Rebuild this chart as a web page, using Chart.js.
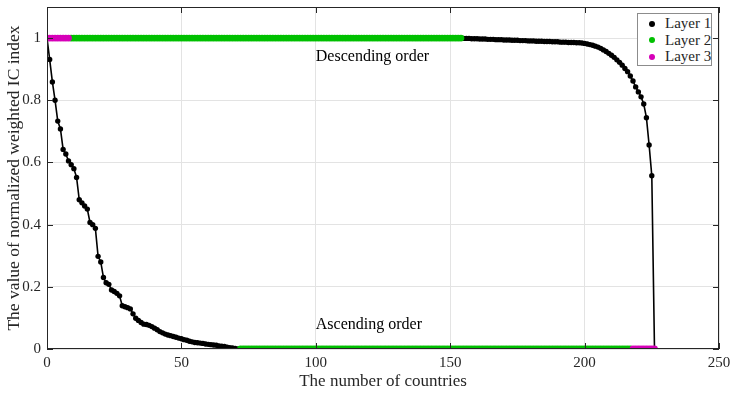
<!DOCTYPE html>
<html>
<head>
<meta charset="utf-8">
<script src="https://cdn.jsdelivr.net/npm/chart.js@4/dist/chart.umd.min.js"></script>
<style>
  html, body { margin: 0; padding: 0; background: #fff; }
  #wrap { position: relative; width: 731px; height: 396px; }
  #legend {
    position: absolute; left: 637px; top: 13px; width: 73px; height: 50px;
    box-sizing: content-box; padding-top: 1px;
    background: #fff; border: 1px solid #8c8c8c;
    font: 15px "Liberation Serif", "Times New Roman", serif; color: #262626;
  }
  #legend div { height: 16.5px; line-height: 17px; white-space: nowrap; }
  #legend span.dot {
    display: inline-block; width: 6px; height: 6px; border-radius: 50%;
    margin: 0 10px 2px 11px; vertical-align: middle;
  }
</style>
</head>
<body>
<div id="wrap">
  <canvas id="chart" width="731" height="396"></canvas>
  <div id="legend"></div>
</div>
<script>
// rank of the country (x) where each run of points starts
const ASC_BLACK_START = 0;
const ASC_GREEN_START = 72;
const ASC_MAGENTA_START = 218;
const DESC_MAGENTA_START = 0;
const DESC_GREEN_START = 9;
const DESC_BLACK_START = 155;

// ascending order curve
const ASC_BLACK = [
  1, 0.931, 0.859, 0.80, 0.733, 0.708, 0.642, 0.627, 0.605, 0.593,
  0.58, 0.552, 0.48, 0.47, 0.46, 0.45, 0.407, 0.40, 0.388, 0.298,
  0.28, 0.23, 0.213, 0.208, 0.19, 0.185, 0.179, 0.171, 0.139, 0.136,
  0.133, 0.129, 0.113, 0.099, 0.092, 0.085, 0.08, 0.079, 0.076, 0.072,
  0.067, 0.062, 0.056, 0.052, 0.048, 0.045, 0.043, 0.04, 0.038, 0.035,
  0.033, 0.03, 0.028, 0.025, 0.023, 0.021, 0.02, 0.019, 0.018, 0.016,
  0.015, 0.014, 0.013, 0.012, 0.01, 0.009, 0.008, 0.006, 0.004, 0.003,
  0.002, 0
];
const ASC_GREEN = [
  0,0,0,0,0,0,0,0,0,0,0,0,0,0,0,0,0,0,0,0,
  0,0,0,0,0,0,0,0,0,0,0,0,0,0,0,0,0,0,0,0,
  0,0,0,0,0,0,0,0,0,0,0,0,0,0,0,0,0,0,0,0,
  0,0,0,0,0,0,0,0,0,0,0,0,0,0,0,0,0,0,0,0,
  0,0,0,0,0,0,0,0,0,0,0,0,0,0,0,0,0,0,0,0,
  0,0,0,0,0,0,0,0,0,0,0,0,0,0,0,0,0,0,0,0,
  0,0,0,0,0,0,0,0,0,0,0,0,0,0,0,0,0,0,0,0,
  0,0,0,0,0,0
];
const ASC_MAGENTA = [0, 0, 0, 0, 0, 0, 0, 0, 0];

// descending order curve
const DESC_MAGENTA = [1, 1, 1, 1, 1, 1, 1, 1, 1];
const DESC_GREEN = [
  1,1,1,1,1,1,1,1,1,1,1,1,1,1,1,1,1,1,1,1,
  1,1,1,1,1,1,1,1,1,1,1,1,1,1,1,1,1,1,1,1,
  1,1,1,1,1,1,1,1,1,1,1,1,1,1,1,1,1,1,1,1,
  1,1,1,1,1,1,1,1,1,1,1,1,1,1,1,1,1,1,1,1,
  1,1,1,1,1,1,1,1,1,1,1,1,1,1,1,1,1,1,1,1,
  1,1,1,1,1,1,1,1,1,1,1,1,1,1,1,1,1,1,1,1,
  1,1,1,1,1,1,1,1,1,1,1,1,1,1,1,1,1,1,1,1,
  1,1,1,1,1,1
];
const DESC_BLACK = [
  0.999, 0.999, 0.999, 0.998, 0.998, 0.998, 0.997, 0.997, 0.997, 0.996,
  0.996, 0.996, 0.995, 0.995, 0.995, 0.994, 0.994, 0.994, 0.993, 0.993,
  0.993, 0.992, 0.992, 0.992, 0.991, 0.991, 0.991, 0.990, 0.990, 0.990,
  0.989, 0.989, 0.989, 0.988, 0.988, 0.988, 0.987, 0.987, 0.987, 0.986,
  0.986, 0.986, 0.985, 0.985, 0.984, 0.983, 0.981, 0.979, 0.977, 0.974,
  0.971, 0.967, 0.962, 0.957, 0.951, 0.945, 0.938, 0.930, 0.922, 0.913,
  0.902, 0.892, 0.878, 0.862, 0.843, 0.827, 0.811, 0.788, 0.744, 0.656,
  0.557, 0
];

const LAYERS = ['Layer 1', 'Layer 2', 'Layer 3'];
const X_TICKS = [0, 50, 100, 150, 200, 250];
const Y_TICKS = [0, 0.2, 0.4, 0.6, 0.8, 1];
const NOTES = [
  {text: 'Descending order', x: 100, y: 0.939},
  {text: 'Ascending order', x: 100, y: 0.077},
];

const BLACK = '#000000';
const GREEN = 'rgb(0 192 0)';
const MAGENTA = 'rgb(214 0 184)';
const SERIF = '"Liberation Serif", "Times New Roman", serif';
const INK = '#262626';

const toPoints = (start, values) => values.map((y, i) => ({x: start + i, y}));

const dots = (data, color) => ({
  data, showLine: false, pointRadius: 3.4, pointBorderWidth: 0,
  pointBackgroundColor: color, backgroundColor: color, borderColor: color,
});
const curve = (data) => ({
  data, showLine: true, borderColor: BLACK, borderWidth: 1.6,
  pointRadius: 2.7, pointBorderWidth: 0, pointBackgroundColor: BLACK, backgroundColor: BLACK,
});

// legend (html)
const legendColors = [BLACK, GREEN, MAGENTA];
document.getElementById('legend').innerHTML = LAYERS.map((l, i) =>
  `<div><span class="dot" style="background:${legendColors[i]}"></span>${l}</div>`).join('');

// MATLAB-like box with inward ticks + text notes
const boxPlugin = {
  id: 'box',
  afterDatasetsDraw(chart) {
    const {ctx, chartArea: a, scales: {x, y}} = chart;
    ctx.save();
    ctx.strokeStyle = INK;
    ctx.lineWidth = 1;
    ctx.strokeRect(a.left + 0.5, a.top + 0.5, a.right - a.left - 1, a.bottom - a.top - 1);
    ctx.beginPath();
    X_TICKS.forEach(v => {
      const px = Math.round(x.getPixelForValue(v)) + 0.5;
      ctx.moveTo(px, a.bottom); ctx.lineTo(px, a.bottom - 6);
      ctx.moveTo(px, a.top); ctx.lineTo(px, a.top + 6);
    });
    Y_TICKS.forEach(v => {
      const py = Math.round(y.getPixelForValue(v)) + 0.5;
      ctx.moveTo(a.left, py); ctx.lineTo(a.left + 6, py);
      ctx.moveTo(a.right, py); ctx.lineTo(a.right - 6, py);
    });
    ctx.stroke();
    ctx.fillStyle = '#000';
    ctx.font = '16px ' + SERIF;
    ctx.textBaseline = 'middle';
    NOTES.forEach(n => ctx.fillText(n.text, x.getPixelForValue(n.x), y.getPixelForValue(n.y)));
    ctx.restore();
  }
};

new Chart(document.getElementById('chart'), {
  type: 'scatter',
  data: {
    datasets: [
      dots(toPoints(ASC_MAGENTA_START, ASC_MAGENTA), MAGENTA),
      dots(toPoints(DESC_MAGENTA_START, DESC_MAGENTA), MAGENTA),
      dots(toPoints(ASC_GREEN_START, ASC_GREEN), GREEN),
      dots(toPoints(DESC_GREEN_START, DESC_GREEN), GREEN),
      curve(toPoints(ASC_BLACK_START, ASC_BLACK)),
      curve(toPoints(DESC_BLACK_START, DESC_BLACK)),
    ]
  },
  options: {
    responsive: false,
    animation: false,
    layout: {padding: {top: 7, right: 12, left: 0, bottom: 0}},
    plugins: {legend: {display: false}, tooltip: {enabled: false}},
    scales: {
      x: {
        type: 'linear', min: 0, max: 250,
        afterBuildTicks: s => { s.ticks = X_TICKS.map(value => ({value})); },
        afterFit: s => { s.height = 47; s.paddingLeft = 0; s.paddingRight = 0; },
        grid: {color: '#e3e3e3', drawTicks: false},
        border: {display: false},
        ticks: {color: INK, font: {family: SERIF, size: 15}, padding: 5, maxRotation: 0},
        title: {display: true, text: 'The number of countries', color: INK,
                font: {family: SERIF, size: 17}, padding: {top: 0, bottom: 4}},
      },
      y: {
        type: 'linear', min: 0, max: 1.1,
        afterBuildTicks: s => { s.ticks = Y_TICKS.map(value => ({value})); },
        afterFit: s => { s.width = 47; s.paddingTop = 0; s.paddingBottom = 0; },
        grid: {color: '#e3e3e3', drawTicks: false},
        border: {display: false},
        ticks: {color: INK, font: {family: SERIF, size: 15}, padding: 6,
                callback: v => String(+v.toFixed(1))},
        title: {display: true, text: 'The value of normalized weighted IC index', color: INK,
                font: {family: SERIF, size: 17.5}, padding: {top: 4, bottom: 0}},
      }
    }
  },
  plugins: [boxPlugin]
});
</script>
</body>
</html>
